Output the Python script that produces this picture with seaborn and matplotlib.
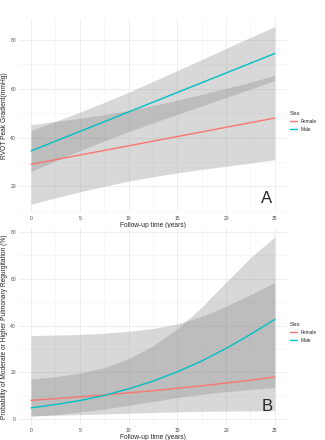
import numpy as np
import pandas as pd
import matplotlib
matplotlib.use('Agg')
import matplotlib.pyplot as plt
import seaborn as sns

sns.set_style('white')
plt.rcParams['font.family'] = ['Liberation Sans', 'DejaVu Sans']

years = [0, 2.5, 5, 7.5, 10, 12.5, 15, 17.5, 20, 22.5, 25]

# panel A - RVOT peak gradient (mmHg)
rvot_female = [29.0, 30.9, 32.8, 34.7, 36.6, 38.5, 40.4, 42.3, 44.2, 46.1, 48.0]
rvot_female_lo = [12.6, 15.2, 17.7, 20.0, 22.1, 23.9, 25.5, 26.9, 28.2, 29.5, 30.9]
rvot_female_hi = [45.3, 46.6, 47.9, 49.4, 51.1, 53.1, 55.3, 57.7, 60.2, 62.7, 65.5]
rvot_male = [34.5, 38.5, 42.5, 46.5, 50.5, 54.5, 58.5, 62.5, 66.5, 70.5, 74.5]
rvot_male_lo = [26.1, 30.4, 34.6, 38.6, 42.4, 46.0, 49.5, 53.0, 56.4, 59.9, 63.4]
rvot_male_hi = [42.9, 46.6, 50.4, 54.4, 58.6, 63.0, 67.5, 72.0, 76.6, 81.1, 85.6]

# panel B - probability of >= moderate PR (%)
pr_female = [8.0, 8.7, 9.5, 10.3, 11.2, 12.1, 13.2, 14.2, 15.4, 16.6, 18.0]
pr_female_lo = [1.4, 1.6, 1.9, 2.2, 2.5, 2.8, 3.1, 3.3, 3.4, 3.5, 3.6]
pr_female_hi = [35.7, 35.9, 36.2, 36.7, 37.5, 38.7, 40.7, 43.9, 48.2, 53.2, 58.5]
pr_male = [4.8, 6.2, 7.9, 10.1, 12.9, 16.2, 20.2, 24.8, 30.2, 36.2, 42.6]
pr_male_lo = [1.2, 1.9, 3.0, 4.3, 5.9, 7.5, 9.2, 10.6, 11.7, 12.6, 13.5]
pr_male_hi = [17.1, 18.1, 19.6, 22.0, 25.8, 31.3, 38.6, 47.8, 58.5, 69.0, 77.9]

pal = {'Female': '#F8766D', 'Male': '#00BFC4'}


def long_df(female, male):
    return pd.DataFrame({
        'year': years + years,
        'value': female + male,
        'Sex': ['Female'] * len(years) + ['Male'] * len(years),
    })


def draw_panel(ax, female, flo, fhi, male, mlo, mhi, ylabel, ylim, yticks, letter, letter_y):
    ax.fill_between(years, flo, fhi, color='#7f7f7f', alpha=0.3, lw=0)
    ax.fill_between(years, mlo, mhi, color='#7f7f7f', alpha=0.3, lw=0)
    sns.lineplot(data=long_df(female, male), x='year', y='value', hue='Sex',
                 palette=pal, lw=1.0, ax=ax)
    ax.set_xlim(-1.25, 26.25)
    ax.set_ylim(*ylim)
    ax.set_xticks([0, 5, 10, 15, 20, 25])
    ax.set_xticks(np.arange(2.5, 25, 5), minor=True)
    ax.set_yticks(yticks)
    ax.set_yticks([t + 10 for t in yticks if t + 10 < ylim[1]] + [t - 10 for t in yticks[:1] if t - 10 > ylim[0]], minor=True)
    ax.grid(which='major', color='#ebebeb', lw=0.6)
    ax.grid(which='minor', color='#f2f2f2', lw=0.4)
    ax.set_axisbelow(True)
    for s in ax.spines.values():
        s.set_visible(False)
    ax.tick_params(which='both', length=0, labelsize=3.6, colors='#4d4d4d', pad=2)
    ax.set_xlabel('Follow-up time (years)', fontsize=4.8, labelpad=0.8)
    ax.set_ylabel(ylabel, fontsize=4.8, labelpad=2)
    ax.text(0.925, letter_y, letter, transform=ax.transAxes, fontsize=12,
            ha='center', va='center')
    sns.move_legend(ax, 'center left', bbox_to_anchor=(1.0, 0.47), frameon=False,
                    title='Sex', fontsize=3.4, title_fontsize=4.4,
                    handlelength=1.6, handletextpad=0.7, labelspacing=0.6,
                    borderaxespad=0.4, borderpad=0.2)
    leg = ax.get_legend()
    leg._legend_box.align = 'left'
    for line in leg.get_lines():
        line.set_linewidth(1.0)


fig = plt.figure(figsize=(3.25, 4.4), dpi=100)
ax1 = fig.add_axes([0.058, 0.515, 0.825, 0.4445])
ax2 = fig.add_axes([0.058, 0.0336, 0.825, 0.449])

draw_panel(ax1, rvot_female, rvot_female_lo, rvot_female_hi,
           rvot_male, rvot_male_lo, rvot_male_hi,
           'RVOT Peak Gradient(mmHg)', (8.85, 89.15), [20, 40, 60, 80], 'A', 0.074)
draw_panel(ax2, pr_female, pr_female_lo, pr_female_hi,
           pr_male, pr_male_lo, pr_male_hi,
           'Probability of Moderate or Higher Pulmonary Regurgitation (%)',
           (-2.64, 81.84), [0, 20, 40, 60, 80], 'B', 0.094)

fig.savefig('out.png', dpi=100)
